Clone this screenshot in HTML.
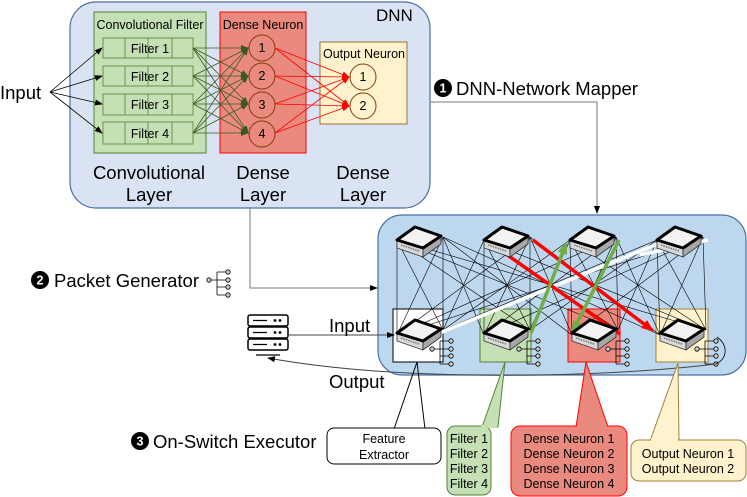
<!DOCTYPE html>
<html><head><meta charset="utf-8"><style>
html,body{margin:0;padding:0;background:#fff;}
svg{display:block;font-family:"Liberation Sans",Arial,sans-serif;}
</style></head><body>
<svg id="s" width="747" height="497" viewBox="0 0 747 497" xmlns="http://www.w3.org/2000/svg">
<defs>
<marker id="ab" markerWidth="8" markerHeight="8" refX="7" refY="4" orient="auto" markerUnits="userSpaceOnUse"><path d="M0,1 L8,4 L0,7 z" fill="#000"/></marker>
<marker id="ag" markerWidth="8" markerHeight="8" refX="7" refY="4" orient="auto" markerUnits="userSpaceOnUse"><path d="M0,1 L8,4 L0,7 z" fill="#3a5a20"/></marker>
<marker id="ar" markerWidth="8" markerHeight="8" refX="7" refY="4" orient="auto" markerUnits="userSpaceOnUse"><path d="M0,1 L8,4 L0,7 z" fill="#f00"/></marker>
<marker id="arb" markerWidth="12" markerHeight="12" refX="10" refY="6" orient="auto" markerUnits="userSpaceOnUse"><path d="M0,1 L12,6 L0,11 z" fill="#f00"/></marker>
<marker id="agb" markerWidth="12" markerHeight="12" refX="10" refY="6" orient="auto" markerUnits="userSpaceOnUse"><path d="M0,1 L12,6 L0,11 z" fill="#70ad47"/></marker>
<g id="sw">
<polygon points="2,15 28,23 28,32 2,23" fill="#d8d8d8" stroke="#333" stroke-width="0.8"/>
<polygon points="28,23 46,11 46,19 28,32" fill="#a8a8a8" stroke="#333" stroke-width="0.8"/>
<polygon points="2,15 20,2 46,11 28,23" fill="#f2f2f2" stroke="#000" stroke-width="3" stroke-linejoin="round"/>
<path d="M6,20 L24,26" stroke="#777" stroke-width="1.5" stroke-dasharray="1.5,1"/>
</g>
<g id="pt" fill="none" stroke="#000" stroke-width="0.8">
<circle cx="0" cy="12" r="2.2" fill="#ccc"/>
<path d="M2,12 H8 M8,4 V27 M8,4 H17 M8,12 H17 M8,19 H17 M8,27 H17"/>
<circle cx="19" cy="4" r="2.2" fill="#ccc"/><circle cx="19" cy="12" r="2.2" fill="#ccc"/><circle cx="19" cy="19" r="2.2" fill="#ccc"/><circle cx="19" cy="27" r="2.2" fill="#ccc"/>
</g>
</defs>

<rect x="70" y="2" width="360" height="206" rx="26" fill="#dae3f3" stroke="#4a6fa5" stroke-width="1.2"/>
<text x="376" y="21" font-size="17">DNN</text>
<rect x="94" y="12" width="112" height="141" fill="#c5e0b4" stroke="#548235" stroke-width="1"/>
<text x="150" y="29" font-size="12.5" text-anchor="middle">Convolutional Filter</text>
<g fill="#c5e0b4" stroke="#548235" stroke-width="0.8">
<rect x="103" y="38" width="90" height="20"/><rect x="103" y="66" width="90" height="20"/>
<rect x="103" y="94" width="90" height="21"/><rect x="103" y="122" width="90" height="22"/>
<path d="M125,38V58M148,38V58M172,38V58M125,66V86M148,66V86M172,66V86M125,94V115M148,94V115M172,94V115M125,122V144M148,122V144M172,122V144" fill="none"/>
</g>
<g font-size="12.5" text-anchor="middle"><text x="150" y="53">Filter 1</text><text x="150" y="81">Filter 2</text><text x="150" y="109">Filter 3</text><text x="150" y="138">Filter 4</text></g>
<rect x="220" y="12" width="86" height="141" fill="#ea8a7e" stroke="#f00" stroke-width="1"/>
<text x="263" y="29" font-size="12.5" text-anchor="middle">Dense Neuron</text>
<rect x="320" y="42" width="87" height="82" fill="#fff2cc" stroke="#a0703a" stroke-width="1"/>
<text x="364" y="58" font-size="12.5" text-anchor="middle">Output Neuron</text>
<text x="0" y="99" font-size="18.5">Input</text>
<g id="dnnlines"></g>
<g fill="none" stroke="#843c0c" stroke-width="1">
<circle cx="262" cy="48" r="13" fill="#ea8a7e"/><circle cx="262" cy="76" r="13" fill="#ea8a7e"/><circle cx="262" cy="105" r="13" fill="#ea8a7e"/><circle cx="262" cy="134" r="13" fill="#ea8a7e"/>
<circle cx="363" cy="77" r="13" fill="#fff2cc"/><circle cx="363" cy="106" r="13" fill="#fff2cc"/>
</g>
<g font-size="12.5" text-anchor="middle"><text x="262" y="52">1</text><text x="262" y="80">2</text><text x="262" y="109">3</text><text x="262" y="138">4</text><text x="363" y="81">1</text><text x="363" y="110">2</text></g>
<g font-size="18.5" text-anchor="middle">
<text x="149" y="179">Convolutional</text><text x="149" y="201">Layer</text>
<text x="263" y="179">Dense</text><text x="263" y="201">Layer</text>
<text x="363" y="179">Dense</text><text x="363" y="201">Layer</text>
</g>

<circle cx="443" cy="88" r="9" fill="#000"/><text x="443" y="92.5" font-size="12.5" font-weight="bold" fill="#fff" text-anchor="middle">1</text>
<text x="456" y="95" font-size="18.5">DNN-Network Mapper</text>
<path d="M430,102 H597 V213" fill="none" stroke="#777" stroke-width="1" marker-end="url(#ab)"/>
<path d="M250,208 V288 H377" fill="none" stroke="#777" stroke-width="1" marker-end="url(#ab)"/>
<circle cx="40" cy="280" r="9" fill="#000"/><text x="40" y="284.5" font-size="12.5" font-weight="bold" fill="#fff" text-anchor="middle">2</text>
<text x="54" y="287" font-size="18.5">Packet Generator</text>
<use href="#pt" x="209" y="268"/>

<rect x="378" y="215" width="368" height="160" rx="24" fill="#bdd7ee" stroke="#4a6fa5" stroke-width="1.2"/>
<rect x="393" y="309" width="50" height="53" fill="#fff" stroke="#000" stroke-width="1"/>
<rect x="480" y="309" width="51" height="53" fill="#c5e0b4" stroke="#548235" stroke-width="1"/>
<rect x="568" y="309" width="52" height="53" fill="#ea8a7e" stroke="#f00" stroke-width="1"/>
<rect x="656" y="309" width="52" height="53" fill="#fff2cc" stroke="#a0803a" stroke-width="1"/>
<g id="mesh" stroke="#000" stroke-width="0.7"></g>
<g stroke-width="3.5" fill="none">
<line x1="442" y1="332" x2="660" y2="243" stroke="#fff"/>
<line x1="640" y1="255" x2="708" y2="240" stroke="#fff"/>
<line x1="533" y1="240" x2="652" y2="330" stroke="#f00" marker-end="url(#arb)"/>
<line x1="620" y1="334" x2="486" y2="240" stroke="#f00" marker-end="url(#arb)"/>
<line x1="531" y1="333" x2="566" y2="244" stroke="#70ad47" marker-end="url(#agb)"/>
<line x1="619" y1="240" x2="573" y2="331" stroke="#70ad47" marker-end="url(#agb)"/>
</g>
<use href="#sw" x="395" y="225"/><use href="#sw" x="482" y="225"/><use href="#sw" x="568" y="225"/><use href="#sw" x="655" y="225"/>
<use href="#sw" x="395" y="318"/><use href="#sw" x="482" y="318"/><use href="#sw" x="570" y="318"/><use href="#sw" x="658" y="318"/>
<use href="#pt" x="432" y="337"/><use href="#pt" x="519" y="337"/><use href="#pt" x="608" y="337"/><use href="#pt" x="697" y="337"/>
<path d="M717,337 C728,345 728,358 716,364" fill="none" stroke="#000" stroke-width="0.8"/>

<g fill="#fff" stroke="#000" stroke-width="1.5">
<rect x="248" y="315" width="40" height="11" rx="2"/><rect x="248" y="327" width="40" height="11" rx="2"/><rect x="248" y="339" width="40" height="11" rx="2"/>
</g>
<g stroke="#000" stroke-width="1.3"><path d="M253,320.5H267M253,332.5H267M253,344.5H267M256,355H280"/></g>
<g fill="#000"><circle cx="275" cy="320.5" r="1.4"/><circle cx="280" cy="320.5" r="1.4"/><circle cx="275" cy="332.5" r="1.4"/><circle cx="280" cy="332.5" r="1.4"/><circle cx="275" cy="344.5" r="1.4"/><circle cx="280" cy="344.5" r="1.4"/></g>
<line x1="288" y1="335" x2="394" y2="335" stroke="#444" stroke-width="1" marker-end="url(#ab)"/>
<text x="329" y="332" font-size="18.5">Input</text>
<path d="M716,364 C600,378 400,382 268,358" fill="none" stroke="#444" stroke-width="1" marker-end="url(#ab)"/>
<text x="329" y="388" font-size="18.5">Output</text>

<circle cx="140" cy="441" r="9" fill="#000"/><text x="140" y="445.5" font-size="12.5" font-weight="bold" fill="#fff" text-anchor="middle">3</text>
<text x="153" y="448" font-size="18.5">On-Switch Executor</text>
<path d="M394,429 L417,362 L425,429" fill="none" stroke="#000" stroke-width="1"/>
<rect x="327" y="428" width="114" height="36" rx="7" fill="#fff" stroke="#000" stroke-width="1"/>
<text x="384" y="443" font-size="12.5" text-anchor="middle">Feature</text><text x="384" y="459" font-size="12.5" text-anchor="middle">Extractor</text>
<path d="M482,427 L505,362 L498,427 Z" fill="#c5e0b4" stroke="#548235" stroke-width="1"/>
<rect x="447" y="426" width="44" height="69" rx="8" fill="#c5e0b4" stroke="#548235" stroke-width="1"/>
<rect x="481" y="425" width="16" height="3" fill="#c5e0b4"/>
<g font-size="12.5" text-anchor="middle"><text x="469" y="443">Filter 1</text><text x="469" y="458">Filter 2</text><text x="469" y="473">Filter 3</text><text x="469" y="488">Filter 4</text></g>
<path d="M576,427 L586,362 L608,427 Z" fill="#ea8a7e" stroke="#f00" stroke-width="1"/>
<rect x="511" y="426" width="116" height="70" rx="9" fill="#ea8a7e" stroke="#f00" stroke-width="1"/>
<rect x="577" y="424" width="30" height="4" fill="#ea8a7e"/>
<g font-size="12.5" text-anchor="middle"><text x="569" y="443">Dense Neuron 1</text><text x="569" y="458">Dense Neuron 2</text><text x="569" y="473">Dense Neuron 3</text><text x="569" y="488">Dense Neuron 4</text></g>
<path d="M650,441 L678,363 L679,441 Z" fill="#fff2cc" stroke="#a0803a" stroke-width="1"/>
<rect x="631" y="440" width="115" height="41" rx="8" fill="#fff2cc" stroke="#a0803a" stroke-width="1"/>
<rect x="651" y="438" width="27" height="4" fill="#fff2cc"/>
<g font-size="12.5" text-anchor="middle"><text x="688" y="458">Output Neuron 1</text><text x="688" y="473">Output Neuron 2</text></g>
</svg>
<script>
var NS="http://www.w3.org/2000/svg";
function L(g,x1,y1,x2,y2,c,w,m){var l=document.createElementNS(NS,"line");l.setAttribute("x1",x1);l.setAttribute("y1",y1);l.setAttribute("x2",x2);l.setAttribute("y2",y2);l.setAttribute("stroke",c);l.setAttribute("stroke-width",w);if(m)l.setAttribute("marker-end",m);g.appendChild(l);}
var d=document.getElementById("dnnlines");
var fy=[48,76,104,133];
fy.forEach(function(y){L(d,50,92,102,y,"#000",0.8,"url(#ab)");});
fy.forEach(function(a){fy.forEach(function(b){L(d,193,a,248,b,"#3a5a20",0.8,"url(#ag)");});});
fy.forEach(function(a){[77,106].forEach(function(b){L(d,275,a,349,b,"#f00",0.8,"url(#ar)");});});
var m=document.getElementById("mesh");
var tops=[[397,240,443,237],[484,240,530,237],[570,240,616,237],[657,240,703,237]];
var bots=[[397,335,443,330],[484,335,530,330],[572,335,618,330],[660,335,706,330]];
tops.forEach(function(t,i){bots.forEach(function(b,j){
L(m,t[0],t[1],b[2],b[3],"#000",0.6);
L(m,t[2],t[3],b[0],b[1],"#000",0.6);
if(i==j){L(m,t[0],t[1],b[0],b[1],"#000",0.6);L(m,t[2],t[3],b[2],b[3],"#000",0.6);}
});});
</script>
</body></html>
